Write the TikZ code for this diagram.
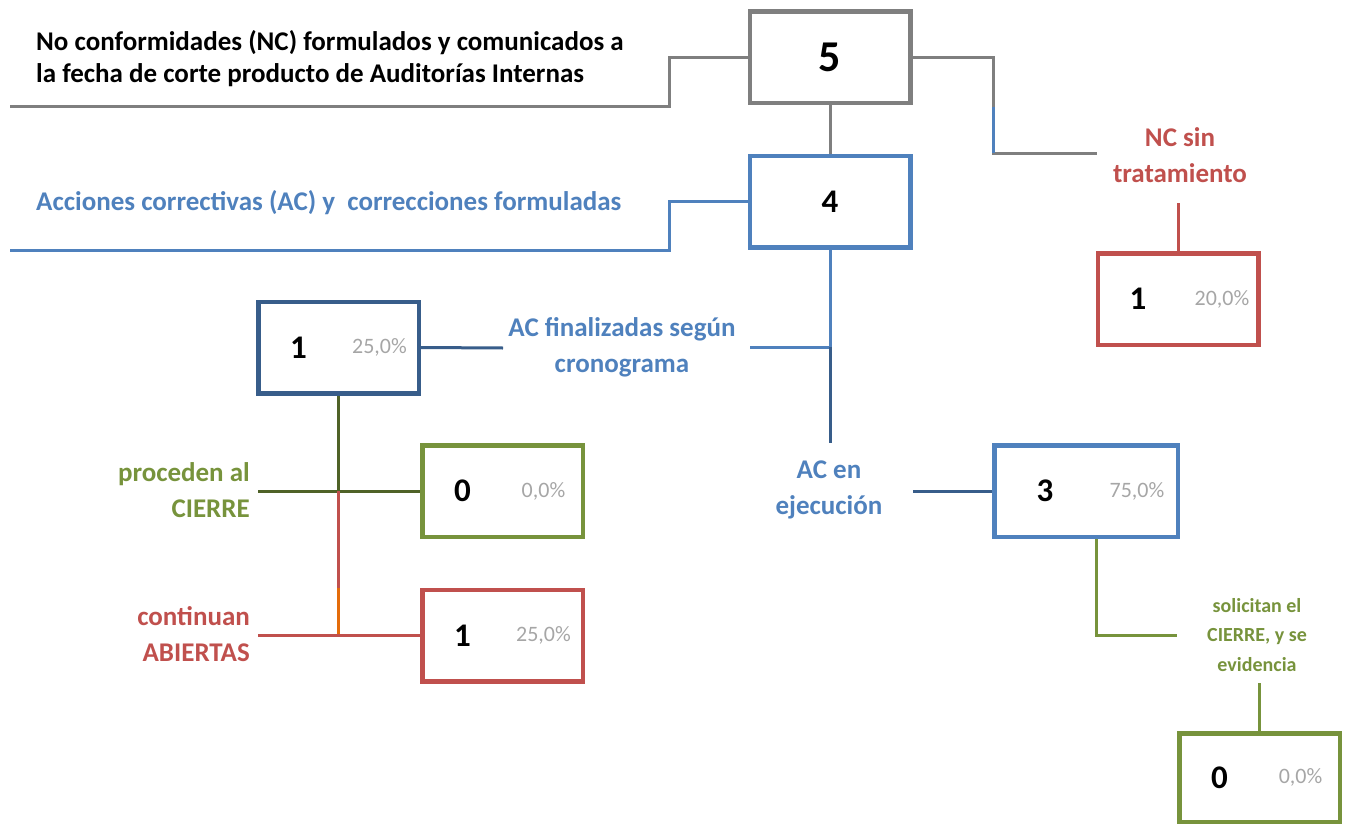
\documentclass[tikz,border=0pt]{standalone}
\usepackage{fontspec}
\setmainfont{Carlito}
\usetikzlibrary{positioning}

\definecolor{grayline}{HTML}{7F7F7F}
\definecolor{acblue}{HTML}{4F81BD}
\definecolor{acdark}{HTML}{385D8A}
\definecolor{ncred}{HTML}{C0504D}
\definecolor{okgreen}{HTML}{77933C}
\definecolor{darkolive}{HTML}{4F6228}
\definecolor{openorange}{HTML}{E46C0A}
\definecolor{pctgray}{HTML}{A6A6A6}

\begin{document}
\begin{tikzpicture}[x=1pt, y=-1pt,
    valbox/.style={draw=#1, line width=4.5pt, minimum width=160.5pt, minimum height=91.5pt, inner sep=0pt},
    num/.style={font=\fontsize{33}{38}\selectfont\bfseries},
    pct/.style={font=\fontsize{22}{24}\selectfont, text=pctgray},
    lbl/.style={font=\fontsize{27}{36}\selectfont\bfseries, text=#1, align=center, inner sep=0pt},
    conn/.style={draw=#1, line width=3pt}]

    \useasboundingbox (0,0) rectangle (1350,827);

    % Totals
    \node[valbox=grayline, font=\fontsize{44}{50}\selectfont\bfseries] (nc) at (830,57) {5};
    \node[valbox=acblue, num] (ac) at (830,201.5) {4};

    \node[lbl=black, align=left, anchor=west, font=\fontsize{27}{32}\selectfont\bfseries] (nc-txt) at (36,59)
        {No conformidades (NC) formulados y comunicados a\\la fecha de corte producto de Auditorías Internas};
    \node[lbl=acblue, anchor=west] (ac-txt) at (36,203) {Acciones correctivas (AC) y \ correcciones formuladas};

    % NC sin tratamiento
    \node[lbl=ncred] (sin-txt) at (1180,155) {NC sin\\tratamiento};
    \node[valbox=ncred] (sintrat) at (1178,299) {};
    \node[num] (sintrat-n) at ([xshift=-40pt]sintrat.center) {1};
    \node[pct] (sintrat-p) at ([xshift=44pt]sintrat.center) {20,0\%};

    % AC finalizadas
    \node[lbl=acblue] (fin-txt) at (622,347) {AC finalizadas según\\cronograma};
    \node[valbox=acdark] (fin) at (338.5,347.5) {};
    \node[num] (fin-n) at ([xshift=-40pt]fin.center) {1};
    \node[pct] (fin-p) at ([xshift=41pt]fin.center) {25,0\%};

    \node[lbl=okgreen, align=right, anchor=east] (cierre-txt) at (250,490) {proceden al\\CIERRE};
    \node[valbox=okgreen] (cierre) at (502.5,491) {};
    \node[num] (cierre-n) at ([xshift=-40pt]cierre.center) {0};
    \node[pct] (cierre-p) at ([xshift=41pt]cierre.center) {0,0\%};

    \node[lbl=ncred, align=right, anchor=east] (abiertas-txt) at (250,634) {continuan\\ABIERTAS};
    \node[valbox=ncred] (abiertas) at (502.5,635.5) {};
    \node[num] (abiertas-n) at ([xshift=-40pt]abiertas.center) {1};
    \node[pct] (abiertas-p) at ([xshift=41pt]abiertas.center) {25,0\%};

    % AC en ejecucion
    \node[lbl=acblue] (ejec-txt) at (829,490) {AC en\\ejecución};
    \node[valbox=acblue, minimum width=183.5pt] (ejec) at (1086,491) {};
    \node[num] (ejec-n) at ([xshift=-41pt]ejec.center) {3};
    \node[pct] (ejec-p) at ([xshift=51pt]ejec.center) {75,0\%};

    \node[lbl=okgreen, font=\fontsize{20}{29.5}\selectfont\bfseries] (evid-txt) at (1257,635) {solicitan el\\CIERRE, y se\\evidencia};
    \node[valbox=okgreen, minimum height=88.5pt] (evid) at (1259.5,777.5) {};
    \node[num] (evid-n) at ([xshift=-40pt]evid.center) {0};
    \node[pct] (evid-p) at ([xshift=41pt]evid.center) {0,0\%};

    % Connector ends
    \coordinate (nc-bend) at (669,106);
    \coordinate (nc-end) at (10,106);
    \coordinate (ac-bend) at (669,250);
    \coordinate (ac-end) at (10,250);
    \coordinate (sin-mid) at (993,107);
    \coordinate (sin-bend) at (993,153);
    \coordinate (sin-end) at (1097,153);
    \coordinate (sin-top) at (1178,203);
    \coordinate (fin-r) at (750,347);
    \coordinate (fin-join) at (830,347);
    \coordinate (ejec-top) at (830,443);
    \coordinate (fin-l) at (503,348);
    \coordinate (ejec-r) at (913,491);
    \coordinate (cierre-l) at (258,491);
    \coordinate (fin-split) at (338.5,491);
    \coordinate (open-mid) at (338.5,588);
    \coordinate (open-join) at (338.5,635.5);
    \coordinate (abiertas-l) at (258,635.5);
    \coordinate (evid-r) at (1177,635);
    \coordinate (evid-b) at (1259.5,683);

    % Connectors
    \draw[conn=grayline] (nc.west) -| (nc-bend) -- (nc-end);
    \draw[conn=grayline] (nc.south) -- (ac.north);
    \draw[conn=grayline] (nc.east) -| (sin-bend) -- (sin-end);
    \draw[conn=acblue] (sin-mid) -- (sin-bend);
    \draw[conn=ncred] (sin-top) -- (sintrat.north);
    \draw[conn=acblue] (ac.west) -| (ac-bend) -- (ac-end);

    \draw[conn=acblue] (ac.south) -- (fin-join);
    \draw[conn=acblue] (fin-r) -- (fin-join);
    \draw[conn=acdark] (fin-join) -- (ejec-top);
    \draw[conn=acdark] (fin.east) -- (fin-l);
    \draw[conn=acdark] (ejec-r) -- (ejec.west);

    \draw[conn=darkolive] (fin.south) -- (fin-split);
    \draw[conn=darkolive] (cierre-l) -- (cierre.west);
    \draw[conn=ncred] (fin-split) -- (open-mid);
    \draw[conn=openorange] (open-mid) -- (open-join);
    \draw[conn=ncred] (abiertas-l) -- (abiertas.west);

    \draw[conn=okgreen] ([xshift=10pt]ejec.south) |- (evid-r);
    \draw[conn=okgreen] (evid-b) -- (evid.north);

\end{tikzpicture}
\end{document}
